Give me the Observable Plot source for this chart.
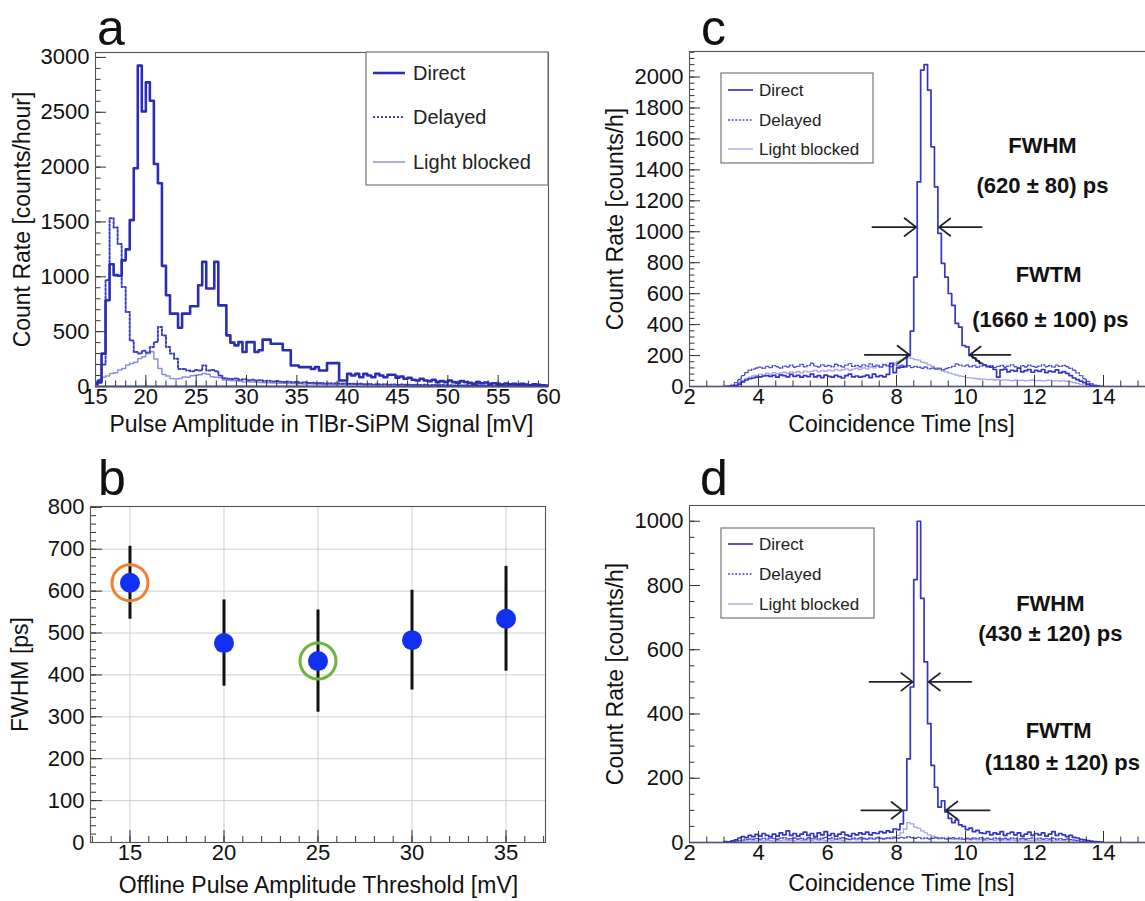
<!DOCTYPE html>
<html><head><meta charset="utf-8">
<script src="https://cdn.jsdelivr.net/npm/d3@7"></script>
<script src="https://cdn.jsdelivr.net/npm/@observablehq/plot@0.6"></script>
<style>
body{margin:0;background:#fff;}
#wrap{position:relative;width:1145px;height:901px;overflow:hidden;background:#fff;}
.panel{position:absolute;}
.panel svg{max-width:none !important;}
</style></head><body><div id="wrap"></div>
<script>
const FONT = '"Liberation Sans", Arial, Helvetica, sans-serif';
const SERIES = ["Direct", "Delayed", "Light blocked"];

// ---------- panel a: pulse amplitude histograms (bins of 0.4 mV starting at 14.8 mV)
const A_START = 14.8, A_WIDTH = 0.4;
const A_DIRECT = [25,40,300,786,1115,1015,1010,1150,1250,1517,
 1990,2925,2508,2773,2605,2029,1853,1100,832,664,
 664,536,664,664,731,731,923,1136,893,893,
 1136,740,740,466,400,375,405,314,405,405,
 314,330,427,427,390,390,390,330,330,192,
 192,177,177,177,160,177,146,146,213,213,
 213,55,55,115,100,115,85,115,100,85,
 115,100,85,107,107,80,91,70,80,61,
 55,70,55,49,61,40,49,40,55,40,
 34,49,40,34,24,40,30,37,24,30,
 24,18,27,21,24,15,24,18,12,21,
 15,12,9];
const A_DELAYED = [0,60,200,970,1533,1450,1300,908,680,420,
 314,300,325,310,360,405,542,466,360,300,
 253,160,160,146,140,150,146,192,146,150,
 140,100,75,70,68,72,62,66,58,62,
 55,58,50,53,46,50,44,40,44,38,
 40,35,38,32,35,30,33,28,30,27,
 29,25,27,24,
 26,22,24,20,23,19,21,18,20,17,19,16,18,15,17,14,16,13,15,12,14,12,13,11,12,10,12,9,11,9,10,8,10,8,9,7,9,7,8,6,8,6,7,5,7,5,6,5,6];
const A_BLOCKED = [0,30,85,95,118,125,150,165,195,210,
 222,255,272,300,316,250,165,110,96,72,
 68,74,86,84,98,102,106,118,112,88,
 84,80,60,56,52,55,48,42,44,40,
 39,36,35,34,31,32,29,30,27,28,
 25,26,23,24,22,23,20,21,19,20,
 18,19,17,16,
 17,15,16,14,15,13,14,12,13,12,11,12,10,11,10,11,9,10,9,10,8,9,8,9,7,8,7,8,7,6,7,6,7,5,6,5,6,5,5,4,5,4,5,4,4,3,4,3,3];
const A_XTICKS = [15,20,25,30,35,40,45,50,55,60];
const A_YTICKS = [0,500,1000,1500,2000,2500,3000];

// ---------- panel b: FWHM vs threshold
const B_THRESH = [15, 20, 25, 30, 35];
const B_FWHM = [620, 476, 433, 483, 534];
const B_ERR = [87, 103, 122, 119, 125];
const B_MARKED = [{t: 15, color: "#f07f2e"}, {t: 25, color: "#6db33f"}];
const B_XTICKS = [15, 20, 25, 30, 35];
const B_YTICKS = [0,100,200,300,400,500,600,700,800];

// ---------- panel c: coincidence time, threshold 15 mV (bins of 0.1 ns starting at 3.0 ns)
const C_START = 3.0, C_WIDTH = 0.1;
const C_DIRECT = [0,0,2,5,15,30,42,50,55,60,
 62,68,70,65,72,60,75,70,62,78,
 66,72,60,70,64,80,62,70,58,74,
 66,60,72,64,55,70,80,62,68,60,
 66,74,58,80,64,70,62,78,150,90,
 120,125,130,200,358,707,1322,2045,2080,1916,
 1549,1290,990,796,707,601,524,408,384,265,
 256,200,185,165,150,140,130,125,110,60,
 108,112,95,105,100,118,95,102,110,92,
 104,98,110,90,100,95,108,88,96,85,
 70,55,45,35,25,15,8,4,2,0];
const C_DELAYED = [0,3,10,25,45,70,90,105,112,120,
 125,118,130,122,135,128,120,132,126,138,
 124,130,142,128,135,150,132,126,140,130,
 136,128,144,134,126,138,148,130,136,128,
 140,132,146,130,138,126,142,134,128,140,
 132,138,126,134,122,130,124,118,126,114,
 120,112,118,108,116,122,130,145,138,132,
 140,128,136,124,132,140,128,134,122,130,
 136,124,132,140,128,122,134,126,138,130,
 124,132,140,128,134,126,138,130,136,128,
 118,105,88,70,50,32,18,8,3,0];
const C_BLOCKED = [0,0,4,12,26,40,52,60,68,72,
 80,74,86,80,90,83,88,92,85,94,
 90,97,88,100,94,98,104,95,102,99,
 106,100,110,103,108,114,105,112,118,110,
 120,114,126,120,130,126,138,134,148,152,
 162,170,178,186,182,174,170,158,152,140,
 130,118,110,100,94,86,80,74,68,64,
 58,56,52,50,47,48,44,46,42,44,
 40,43,41,38,42,39,41,37,40,42,
 38,40,36,39,41,37,38,35,37,34,
 30,25,20,14,9,5,3,1,0,0];
const C_XTICKS = [2,4,6,8,10,12,14];
const C_YTICKS = [0,200,400,600,800,1000,1200,1400,1600,1800,2000];
const C_NOTES = [
 {x: 12.23, y: 1553, text: "FWHM"},
 {x: 12.23, y: 1294, text: "(620 \u00b1 80) ps"},
 {x: 12.41, y: 718, text: "FWTM"},
 {x: 12.46, y: 427, text: "(1660 \u00b1 100) ps"}];
const C_ARROWS = [
 {x1: 7.30, x2: 8.57, y: 1030}, {x1: 10.47, x2: 9.23, y: 1030},
 {x1: 7.08, x2: 8.37, y: 205}, {x1: 11.30, x2: 10.13, y: 205}];

// ---------- panel d: coincidence time, threshold 25 mV
const D_DIRECT = [3,2,5,8,14,18,15,22,18,25,
 20,28,22,18,26,20,30,24,36,22,
 28,20,26,32,22,28,18,30,24,34,
 22,28,20,26,32,24,20,28,24,30,
 26,32,24,30,28,34,30,36,32,42,
 40,58,100,260,484,818,1000,760,562,370,
 240,172,110,130,95,75,62,70,55,50,
 40,45,34,38,30,28,34,24,30,26,
 34,22,28,32,24,30,20,26,32,22,
 28,24,30,20,26,34,22,28,24,18,
 22,16,14,10,8,6,4,3,2,1];
const D_DELAYED = [0,1,2,4,6,8,9,11,10,12,
 10,13,11,14,12,10,13,15,11,12,
 14,11,13,10,15,12,14,11,13,16,
 12,14,11,13,15,12,10,14,12,15,
 13,11,14,12,16,13,11,14,12,15,
 13,16,14,18,15,13,16,12,14,11,
 13,15,12,14,11,13,15,12,14,10,
 13,11,14,12,15,11,13,10,14,12,
 11,13,10,14,12,11,13,10,12,14,
 11,13,10,12,11,13,10,12,9,11,
 9,8,6,4,3,2,1,1,0,0];
const D_BLOCKED = [0,0,1,2,3,4,5,4,6,5,
 6,5,7,6,5,7,6,8,6,7,
 6,8,7,6,8,7,9,7,8,6,
 8,7,9,8,7,9,8,10,8,9,
 10,9,11,10,12,11,13,14,16,18,
 22,30,42,62,58,48,44,36,30,24,
 20,17,15,13,12,11,10,11,9,10,
 9,8,10,8,9,7,8,9,7,8,
 7,8,6,8,7,6,8,7,6,7,
 6,7,5,6,7,5,6,5,6,4,
 4,3,3,2,2,1,1,0,0,0];
const D_XTICKS = [2,4,6,8,10,12,14];
const D_YTICKS = [0,200,400,600,800,1000];
const D_NOTES = [
 {x: 12.46, y: 743, text: "FWHM"},
 {x: 12.46, y: 649, text: "(430 \u00b1 120) ps"},
 {x: 12.70, y: 346, text: "FWTM"},
 {x: 12.81, y: 249, text: "(1180 \u00b1 120) ps"}];
const D_ARROWS = [
 {x1: 7.22, x2: 8.47, y: 500}, {x1: 10.17, x2: 8.93, y: 500},
 {x1: 6.98, x2: 8.17, y: 100}, {x1: 10.70, x2: 9.43, y: 100}];

// ---------- styles
const STY_A = [
 {stroke: "#2a2db5", strokeWidth: 2.6, dash: null},
 {stroke: "#3c3fc2", strokeWidth: 2.0, dash: "2,2"},
 {stroke: "#8c90da", strokeWidth: 1.5, dash: null}];
const STY_C = [
 {stroke: "#3434c8", strokeWidth: 1.7, dash: null},
 {stroke: "#4b4bd0", strokeWidth: 1.4, dash: "2,1.6"},
 {stroke: "#a3a6ea", strokeWidth: 1.3, dash: null}];

function outline(start, width, values) {
  const r = v => Math.round(v * 10000) / 10000;
  const pts = [{x: r(start), y: 0}];
  values.forEach((v, i) => {
    pts.push({x: r(start + i * width), y: v}, {x: r(start + (i + 1) * width), y: v});
  });
  pts.push({x: r(start + values.length * width), y: 0});
  return pts;
}
function histLines(start, width, seriesList, styles) {
  const marks = [];
  for (let i = seriesList.length - 1; i >= 0; i--) {
    const s = styles[i];
    marks.push(Plot.line(outline(start, width, seriesList[i]), {
      x: "x", y: "y", stroke: s.stroke, strokeWidth: s.strokeWidth,
      strokeDasharray: s.dash || undefined, clip: true}));
  }
  return marks;
}

const TICK_FONT = 22, TITLE_FONT = 23;
const wrap = document.getElementById("wrap");
function panel(cfg) {
  const {left, top, width, height, ml, mr, mt, mb, xd, yd, xt, yt, xMinor, yMinor,
    tickLen, marks, under = [], yTitle, yTitleX, xTitle, xTitleX, xTitleY} = cfg;
  const kx = (width - ml - mr) / (xd[1] - xd[0]);
  const ky = (height - mt - mb) / (yd[1] - yd[0]);
  const tc = "#333";
  const ticks = [
    Plot.ruleY(yMinor, {y: d => d, x1: xd[0], x2: xd[0] + tickLen / 2 / kx, stroke: tc, strokeWidth: 1}),
    Plot.ruleY(yt, {y: d => d, x1: xd[0], x2: xd[0] + tickLen / kx, stroke: tc, strokeWidth: 1}),
    Plot.ruleX(xMinor, {x: d => d, y1: yd[0], y2: yd[0] + tickLen / 2 / ky, stroke: tc, strokeWidth: 1}),
    Plot.ruleX(xt, {x: d => d, y1: yd[0], y2: yd[0] + tickLen / ky, stroke: tc, strokeWidth: 1})
  ];
  // titles: page coordinates converted to panel-local offsets
  const titles = [
    Plot.text([yTitle], {text: d => d, frameAnchor: "left", textAnchor: "middle", lineAnchor: "middle",
      dx: (yTitleX - left) - ml, rotate: -90, fontSize: TITLE_FONT, fill: "#111"}),
    Plot.text([xTitle], {text: d => d, frameAnchor: "bottom-left", textAnchor: "middle",
      lineAnchor: "middle", dx: (xTitleX - left) - ml, dy: (xTitleY - top) - (height - mb),
      fontSize: TITLE_FONT, fill: "#111"})
  ];
  const svg = Plot.plot({
    width, height, marginLeft: ml, marginRight: mr, marginTop: mt, marginBottom: mb,
    x: {domain: xd, ticks: xt, tickSize: 0, tickPadding: 2, tickFormat: d => String(d), label: null},
    y: {domain: yd, ticks: yt, tickSize: 0, tickPadding: 6, tickFormat: d => String(d), label: null},
    style: {fontFamily: FONT, fontSize: TICK_FONT + "px", color: "#111", background: "transparent", overflow: "visible"},
    marks: [...under, ...marks, ...ticks, Plot.frame({stroke: "#555", strokeWidth: 1.1}), ...titles]
  });
  svg.style.maxWidth = "none";
  svg.style.width = width + "px";
  svg.style.height = height + "px";
  const div = document.createElement("div");
  div.className = "panel";
  div.style.left = left + "px"; div.style.top = top + "px";
  div.style.width = width + "px"; div.style.height = height + "px";
  div.appendChild(svg);
  wrap.appendChild(div);
}

// panel a
panel({
  left: 0, top: 0, width: 575, height: 450, ml: 95, mr: 27, mt: 52, mb: 64,
  xd: [15, 60], yd: [0, 3045], xt: A_XTICKS, yt: A_YTICKS,
  xMinor: d3.range(15, 61, 1), yMinor: d3.range(0, 3001, 100), tickLen: 11,
  marks: [Plot.ruleY([0], {stroke: STY_A[0].stroke, strokeWidth: 2}),
    ...histLines(A_START, A_WIDTH, [A_DIRECT, A_DELAYED, A_BLOCKED], STY_A)],
  yTitle: "Count Rate [counts/hour]", yTitleX: 22,
  xTitle: "Pulse Amplitude in TlBr-SiPM Signal [mV]", xTitleX: 321, xTitleY: 424
});

// panel b
const bData = B_THRESH.map((t, i) => ({t, v: B_FWHM[i], e: B_ERR[i]}));
const bMarked = B_MARKED.map(m => ({t: m.t, v: B_FWHM[B_THRESH.indexOf(m.t)], color: m.color}));
panel({
  left: 0, top: 450, width: 575, height: 451, ml: 90, mr: 30, mt: 56, mb: 59,
  xd: [12.9, 37.1], yd: [0, 802], xt: B_XTICKS, yt: B_YTICKS,
  xMinor: d3.range(13, 38, 1), yMinor: d3.range(0, 801, 20), tickLen: 12,
  under: [Plot.ruleX(B_XTICKS, {x: d => d, stroke: "#cfcfcf", strokeWidth: 1}),
    Plot.ruleY(B_YTICKS.slice(1, -1), {y: d => d, stroke: "#cfcfcf", strokeWidth: 1})],
  marks: [
    Plot.ruleX(bData, {x: "t", y1: d => d.v - d.e, y2: d => d.v + d.e, stroke: "#111", strokeWidth: 3}),
    Plot.dot(bData, {x: "t", y: "v", r: 10, fill: "#1230f2", stroke: "none"}),
    Plot.dot(bMarked, {x: "t", y: "v", r: 18, fill: "none", stroke: "color", strokeWidth: 3})
  ],
  yTitle: "FWHM [ps]", yTitleX: 20,
  xTitle: "Offline Pulse Amplitude Threshold [mV]", xTitleX: 318, xTitleY: 885
});

function notesAndArrows(notes, arrows) {
  return [
    Plot.arrow(arrows, {x1: "x1", x2: "x2", y1: "y", y2: "y", stroke: "#222", strokeWidth: 1.8,
      headLength: 14, headAngle: 75}),
    Plot.text(notes, {x: "x", y: "y", text: "text", fontWeight: "bold", fontSize: 22, fill: "#111"})
  ];
}

// panel c
panel({
  left: 575, top: 0, width: 607, height: 450, ml: 114, mr: 10, mt: 51, mb: 64,
  xd: [2, 16], yd: [0, 2165], xt: C_XTICKS, yt: C_YTICKS,
  xMinor: d3.range(2, 16.01, 0.5), yMinor: d3.range(0, 2161, 40), tickLen: 11,
  marks: [Plot.ruleY([0], {stroke: STY_C[0].stroke, strokeWidth: 1.6}),
    ...histLines(C_START, C_WIDTH, [C_DIRECT, C_DELAYED, C_BLOCKED], STY_C),
    ...notesAndArrows(C_NOTES, C_ARROWS)],
  yTitle: "Count Rate [counts/h]", yTitleX: 615,
  xTitle: "Coincidence Time [ns]", xTitleX: 901, xTitleY: 424
});

// panel d
panel({
  left: 575, top: 450, width: 607, height: 451, ml: 114, mr: 10, mt: 55, mb: 59,
  xd: [2, 16], yd: [0, 1049], xt: D_XTICKS, yt: D_YTICKS,
  xMinor: d3.range(2, 16.01, 0.5), yMinor: d3.range(0, 1001, 50), tickLen: 11,
  marks: [Plot.ruleY([0], {stroke: STY_C[0].stroke, strokeWidth: 1.6}),
    ...histLines(C_START, C_WIDTH, [D_DIRECT, D_DELAYED, D_BLOCKED], STY_C),
    ...notesAndArrows(D_NOTES, D_ARROWS)],
  yTitle: "Count Rate [counts/h]", yTitleX: 615,
  xTitle: "Coincidence Time [ns]", xTitleX: 901, xTitleY: 883
});

// overlay: legends and panel letters
const ov = d3.select("#wrap").append("svg")
  .attr("width", 1145).attr("height", 901)
  .style("position", "absolute").style("left", 0).style("top", 0)
  .style("pointer-events", "none").style("font-family", FONT);

function legend(box, ys, lx0, lx1, tx, fs, styles) {
  ov.append("rect").attr("x", box[0]).attr("y", box[1]).attr("width", box[2] - box[0])
    .attr("height", box[3] - box[1]).attr("fill", "#fff").attr("stroke", "#777").attr("stroke-width", 1.2);
  SERIES.forEach((name, i) => {
    const s = styles[i];
    ov.append("line").attr("x1", lx0).attr("x2", lx1).attr("y1", ys[i]).attr("y2", ys[i])
      .attr("stroke", s.stroke).attr("stroke-width", s.strokeWidth)
      .attr("stroke-dasharray", s.dash || null);
    ov.append("text").attr("x", tx).attr("y", ys[i]).attr("dy", "0.35em")
      .attr("font-size", fs).attr("fill", "#222").text(name);
  });
}
legend([366, 52, 548, 185], [73, 117, 162], 373, 405, 413, 20, STY_A);
legend([721, 73, 873, 163], [90, 120, 149], 728, 753, 759, 17, STY_C);
legend([721, 528, 874, 618], [544, 574, 604], 728, 753, 759, 17, STY_C);

[["a", 97, 45], ["b", 98, 495], ["c", 701, 45], ["d", 700, 495]].forEach(([t, x, y]) => {
  ov.append("text").attr("x", x).attr("y", y).attr("font-size", 50).attr("fill", "#111").text(t);
});
</script></body></html>
